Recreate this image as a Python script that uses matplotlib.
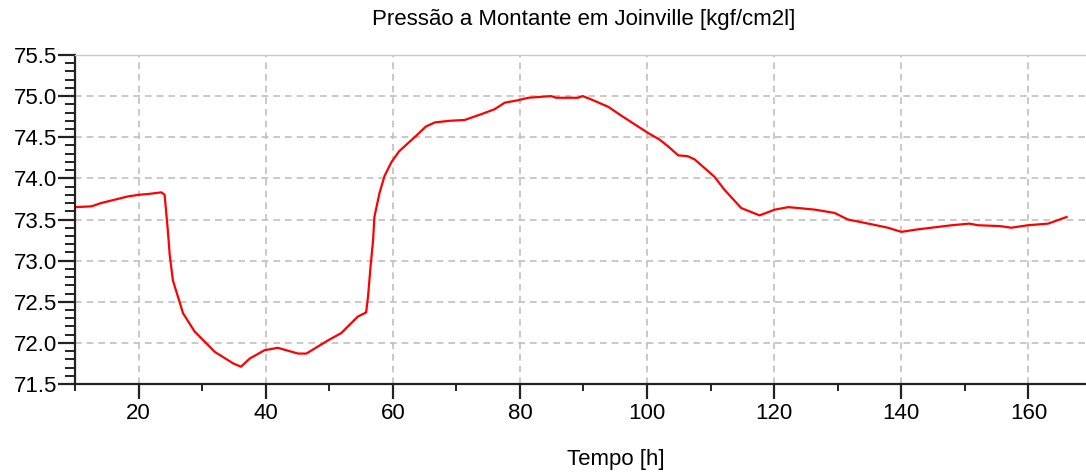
import numpy as np
import matplotlib
matplotlib.use('Agg')
import matplotlib.pyplot as plt
from matplotlib.ticker import MultipleLocator

# values
tempo = [10, 12.6, 14.1, 16.2, 18.3, 20, 21.5, 23.6, 24.1, 24.6,
         24.9, 25.4, 27.0, 28.8, 32.0, 34.9, 36.1, 37.5, 39.8, 41.9,
         45.1, 46.4, 49.8, 51.9, 54.5, 55.8, 56.1, 56.5, 56.9, 57.1,
         57.9, 58.7, 59.8, 61.0, 63.7, 65.2, 66.6, 68.9, 71.3, 73.9,
         76.0, 77.6, 79.7, 81.3, 84.9, 85.7, 89.1, 89.9, 91.2, 93.9,
         96.0, 98.0, 100.2, 102.0, 103.3, 104.9, 106.4, 107.5, 110.6, 112.2,
         114.8, 117.7, 120.1, 122.2, 123.7, 126.4, 129.5, 131.6, 134.8, 137.9,
         140.0, 142.6, 145.8, 147.9, 150.7, 152.1, 155.5, 157.3, 159.9, 163.1,
         166.0]
pressao = [73.65, 73.66, 73.70, 73.74, 73.78, 73.80, 73.81, 73.83, 73.80, 73.37,
           73.07, 72.76, 72.36, 72.14, 71.89, 71.75, 71.71, 71.81, 71.91, 71.94,
           71.87, 71.87, 72.03, 72.12, 72.32, 72.37, 72.56, 72.93, 73.25, 73.53,
           73.82, 74.03, 74.20, 74.33, 74.52, 74.63, 74.68, 74.70, 74.71, 74.78,
           74.84, 74.92, 74.95, 74.98, 75.00, 74.98, 74.98, 75.00, 74.96, 74.87,
           74.76, 74.66, 74.55, 74.47, 74.39, 74.28, 74.27, 74.23, 74.02, 73.86,
           73.64, 73.55, 73.62, 73.65, 73.64, 73.62, 73.58, 73.50, 73.45, 73.40,
           73.35, 73.38, 73.41, 73.43, 73.45, 73.43, 73.42, 73.40, 73.43, 73.45,
           73.53]

titulo = 'Pressão a Montante em Joinville [kgf/cm2l]'
rotulo_x = 'Tempo [h]'

plt.rcParams['font.family'] = ['Liberation Sans', 'DejaVu Sans']

fig = plt.figure(figsize=(10.86, 4.75), dpi=100)
ax = fig.add_axes([75 / 1086, 1 - 384 / 475, 1 - 75 / 1086, (384 - 55) / 475])

ax.plot(tempo, pressao, color='#ff0000', linewidth=1.6)

ax.set_xlim(10, 169.06)
ax.set_ylim(71.5, 75.5)
ax.xaxis.set_major_locator(MultipleLocator(20))
ax.xaxis.set_minor_locator(MultipleLocator(10))
ax.yaxis.set_major_locator(MultipleLocator(0.5))
ax.yaxis.set_minor_locator(MultipleLocator(0.1))
ax.yaxis.set_major_formatter(plt.FormatStrFormatter('%.1f'))

ax.grid(True, which='major', color='#c0c0c0', linestyle=(0, (4, 3)), linewidth=1.2)
ax.set_axisbelow(True)

ax.spines['right'].set_visible(False)
ax.spines['top'].set_color('#c8c8c8')
ax.spines['top'].set_linewidth(1.0)
for s in ('left', 'bottom'):
    ax.spines[s].set_color('#222222')
    ax.spines[s].set_linewidth(1.6)

ax.tick_params(axis='y', which='major', length=12, width=1.6, color='#222222',
               labelsize=16, pad=1)
ax.tick_params(axis='y', which='minor', length=7, width=1.4, color='#222222')
ax.tick_params(axis='x', which='major', length=11, width=1.6, color='#222222',
               labelsize=16, pad=3)
ax.tick_params(axis='x', which='minor', length=5, width=1.4, color='#222222')

fig.text(584 / 1086, 1 - 20 / 475, titulo, ha='center', va='center', fontsize=16)
fig.text(616 / 1086, 1 - 460 / 475, rotulo_x, ha='center', va='center', fontsize=16)

fig.savefig('out.png', dpi=100)
